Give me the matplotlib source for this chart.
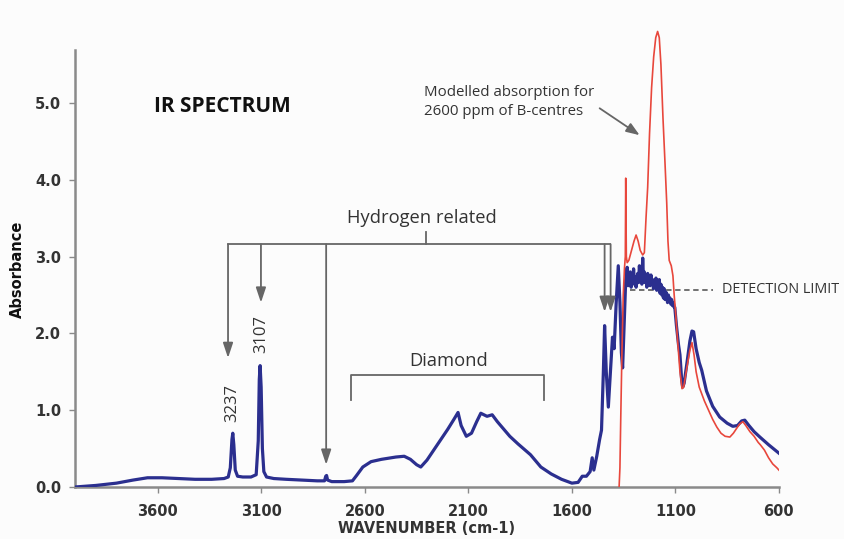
import numpy as np
import matplotlib
matplotlib.use('Agg')
import matplotlib.pyplot as plt

# Spectre mesuré (bleu)
wn_blue = [4000, 3900, 3800, 3720, 3650, 3580, 3500, 3420, 3340, 3280, 3260, 3250, 3242, 3238,
           3233, 3226, 3215, 3190, 3150, 3125, 3115, 3110, 3106, 3101, 3095, 3088, 3075, 3040,
           2980, 2900, 2830, 2795, 2789, 2785, 2780, 2760, 2700, 2660, 2640, 2610, 2570, 2520,
           2450, 2410, 2380, 2350, 2330, 2300, 2250, 2200, 2170, 2150, 2135, 2110, 2085, 2060,
           2040, 2010, 1985, 1960, 1900, 1860, 1800, 1750, 1700, 1650, 1600, 1570, 1550, 1530,
           1512, 1502, 1494, 1480, 1466, 1457, 1448, 1442, 1434, 1424, 1414, 1404, 1396, 1386,
           1376, 1368, 1361, 1355, 1348, 1340, 1333, 1329, 1326, 1322, 1318, 1314, 1310, 1306,
           1302, 1298, 1294, 1290, 1286, 1282, 1278, 1274, 1270, 1266, 1262, 1258, 1254, 1250,
           1246, 1242, 1238, 1234, 1230, 1226, 1222, 1218, 1214, 1210, 1206, 1202, 1198, 1194,
           1190, 1186, 1182, 1178, 1174, 1170, 1166, 1162, 1158, 1154, 1150, 1146, 1142, 1138,
           1134, 1130, 1126, 1122, 1118, 1114, 1110, 1106, 1103, 1095, 1085, 1078, 1070,
           1065, 1058, 1045, 1030, 1020, 1012, 1000, 985, 973, 950, 920, 886, 850, 823, 800,
           780, 765, 745, 720, 692, 650, 600]
abs_blue = [0.00, 0.02, 0.05, 0.09, 0.12, 0.12, 0.11, 0.10, 0.10, 0.11, 0.13, 0.25, 0.62, 0.70,
            0.55, 0.22, 0.14, 0.13, 0.13, 0.16, 0.60, 1.40, 1.58, 1.30, 0.50, 0.20, 0.13, 0.11,
            0.10, 0.09, 0.08, 0.08, 0.14, 0.15, 0.09, 0.07, 0.07, 0.08, 0.15, 0.26, 0.33, 0.36,
            0.39, 0.40, 0.36, 0.29, 0.26, 0.35, 0.55, 0.75, 0.88, 0.97, 0.80, 0.66, 0.70, 0.85,
            0.96, 0.92, 0.94, 0.85, 0.66, 0.56, 0.42, 0.26, 0.17, 0.10, 0.05, 0.06, 0.14, 0.14,
            0.20, 0.38, 0.22, 0.40, 0.62, 0.74, 1.50, 2.10, 1.50, 1.04, 1.50, 1.95, 1.80, 2.40,
            2.88, 2.40, 1.75, 1.55, 2.10, 2.70, 2.86, 2.62, 2.78, 2.66, 2.80, 2.60, 2.72, 2.64,
            2.84, 2.66, 2.74, 2.60, 2.70, 2.78, 2.66, 2.88, 2.70, 2.76, 2.64, 2.98, 2.70, 2.80,
            2.66, 2.74, 2.60, 2.78, 2.68, 2.72, 2.62, 2.76, 2.66, 2.70, 2.58, 2.68, 2.62, 2.72,
            2.56, 2.66, 2.60, 2.70, 2.52, 2.64, 2.50, 2.60, 2.46, 2.58, 2.44, 2.54, 2.47, 2.40,
            2.50, 2.42, 2.46, 2.38, 2.44, 2.36, 2.40, 2.34, 2.34, 2.10, 1.85, 1.72, 1.40,
            1.30, 1.35, 1.60, 1.90, 2.03, 2.02, 1.80, 1.62, 1.52, 1.25, 1.05, 0.91, 0.83, 0.79,
            0.80, 0.86, 0.87, 0.80, 0.72, 0.65, 0.55, 0.44]

# Absorption modélisée, 2600 ppm de centres B (rouge)
wn_red = [1372, 1368, 1364, 1358, 1352, 1346, 1342, 1340, 1337, 1333, 1325, 1312, 1300, 1290,
          1280, 1270, 1258, 1250, 1242, 1234, 1225, 1215, 1205, 1195, 1186, 1178, 1170, 1160,
          1150, 1142, 1136, 1130, 1120, 1112, 1106, 1100, 1092, 1085, 1078, 1068, 1060, 1045,
          1030, 1020, 1010, 1000, 985, 960, 940, 920, 900, 880, 860, 837, 820, 800, 790, 774,
          760, 740, 720, 700, 690, 670, 650, 630, 610, 600]
abs_red = [0.00, 0.25, 0.90, 1.80, 2.50, 2.85, 3.00, 4.02, 3.00, 2.92, 2.95, 3.08, 3.20, 3.28,
           3.20, 3.08, 3.02, 3.05, 3.50, 3.90, 4.60, 5.20, 5.60, 5.85, 5.93, 5.85, 5.50, 4.80,
           4.20, 3.70, 3.20, 2.95, 2.88, 2.75, 2.50, 2.30, 2.00, 1.75, 1.50, 1.28, 1.30, 1.55,
           1.78, 1.88, 1.72, 1.50, 1.30, 1.12, 1.00, 0.88, 0.78, 0.70, 0.66, 0.65, 0.70, 0.78,
           0.82, 0.85, 0.80, 0.72, 0.66, 0.58, 0.55, 0.48, 0.38, 0.30, 0.25, 0.22]

xticks = [3600, 3100, 2600, 2100, 1600, 1100, 600]
yticks = [0.0, 1.0, 2.0, 3.0, 4.0, 5.0]

# Flèches "Hydrogen related" : position et pointe
h_arrow_x = [3261, 3102, 2787, 1442, 1413]
h_arrow_tip = [1.68, 2.40, 0.29, 2.28, 2.28]
h_bar = 3.16

ANNOT = '#666666'
TXT = '#333333'
FONT = ['Open Sans', 'DejaVu Sans']

fig = plt.figure(figsize=(8.44, 5.39), dpi=100, facecolor='#fcfcfc')
ax = fig.add_axes([0.0889, 0.0965, 0.834, 0.848])
ax.set_facecolor('#fcfcfc')

ax.plot(wn_blue, abs_blue, color='#2b2f8f', lw=2.3, solid_joinstyle='round', zorder=3)
ax.plot(wn_red, abs_red, color='#e8473c', lw=1.2, zorder=4)

ax.set_xlim(4000, 600)
ax.set_ylim(0, 5.95)
ax.set_xticks(xticks)
ax.set_yticks(yticks)
ax.set_yticklabels([f'{v:.1f}' for v in yticks])
for s in ['top', 'right']:
    ax.spines[s].set_visible(False)
for s in ['left', 'bottom']:
    ax.spines[s].set_color('#8a8a8a')
    ax.spines[s].set_linewidth(1.8)
ax.spines['left'].set_bounds(0, 5.69)
ax.tick_params(axis='both', colors='#8a8a8a', length=4, width=1, labelcolor=TXT,
               labelsize=10.5)
ax.tick_params(axis='x', pad=8)
ax.tick_params(axis='y', pad=6)
for lab in ax.get_xticklabels() + ax.get_yticklabels():
    lab.set_fontweight('bold')

ax.set_xlabel('WAVENUMBER (cm-1)', fontsize=10.5, fontweight='bold', color=TXT, labelpad=2)
ax.set_ylabel('Absorbance', fontsize=10.5, fontweight='bold', color='#111111')
ax.yaxis.set_label_coords(-0.071, 0.477)

ax.text(3619, 4.95, 'IR SPECTRUM', fontsize=15, fontweight='bold', family=FONT,
        color='#111111', va='center', ha='left')

# Crochet hydrogène
ax.plot([h_arrow_x[0], h_arrow_x[-1] + 5], [h_bar, h_bar], color=ANNOT, lw=1.3)
ax.plot([2303, 2303], [h_bar, 3.32], color=ANNOT, lw=1.3)
for xa, tip in zip(h_arrow_x, h_arrow_tip):
    ax.annotate('', xy=(xa, tip), xytext=(xa, h_bar),
                arrowprops=dict(arrowstyle='-|>,head_length=0.9,head_width=0.3',
                                color=ANNOT, lw=1.3, shrinkA=0, shrinkB=0))
ax.text(2327, 3.50, 'Hydrogen related', fontsize=13.2, family=FONT, color=TXT,
        ha='center', va='center')
ax.text(3242, 1.09, '3237', rotation=90, fontsize=12, family=FONT, color=TXT,
        ha='center', va='center')
ax.text(3102, 1.99, '3107', rotation=90, fontsize=12, family=FONT, color=TXT,
        ha='center', va='center')

# Crochet diamant
ax.plot([2666, 2666, 1737, 1737], [1.13, 1.46, 1.46, 1.13], color=ANNOT, lw=1.3)
ax.text(2197, 1.64, 'Diamond', fontsize=13.2, family=FONT, color=TXT,
        ha='center', va='center')

# Limite de détection
ax.plot([1321, 919], [2.57, 2.57], color=ANNOT, lw=1.3, ls=(0, (3, 2)), zorder=2)
ax.text(876, 2.57, 'DETECTION LIMIT', fontsize=10.4, family=FONT, color=TXT,
        ha='left', va='center', clip_on=False)

ax.text(2313, 5.01, 'Modelled absorption for\n2600 ppm of B-centres', fontsize=10.8,
        family=FONT, color=TXT, ha='left', va='center', linespacing=1.35)
ax.annotate('', xy=(1273, 4.58), xytext=(1466, 4.93),
            arrowprops=dict(arrowstyle='-|>,head_length=0.8,head_width=0.3',
                            color=ANNOT, lw=1.3, shrinkA=0, shrinkB=0))

fig.savefig('out.png', dpi=100, facecolor=fig.get_facecolor())
